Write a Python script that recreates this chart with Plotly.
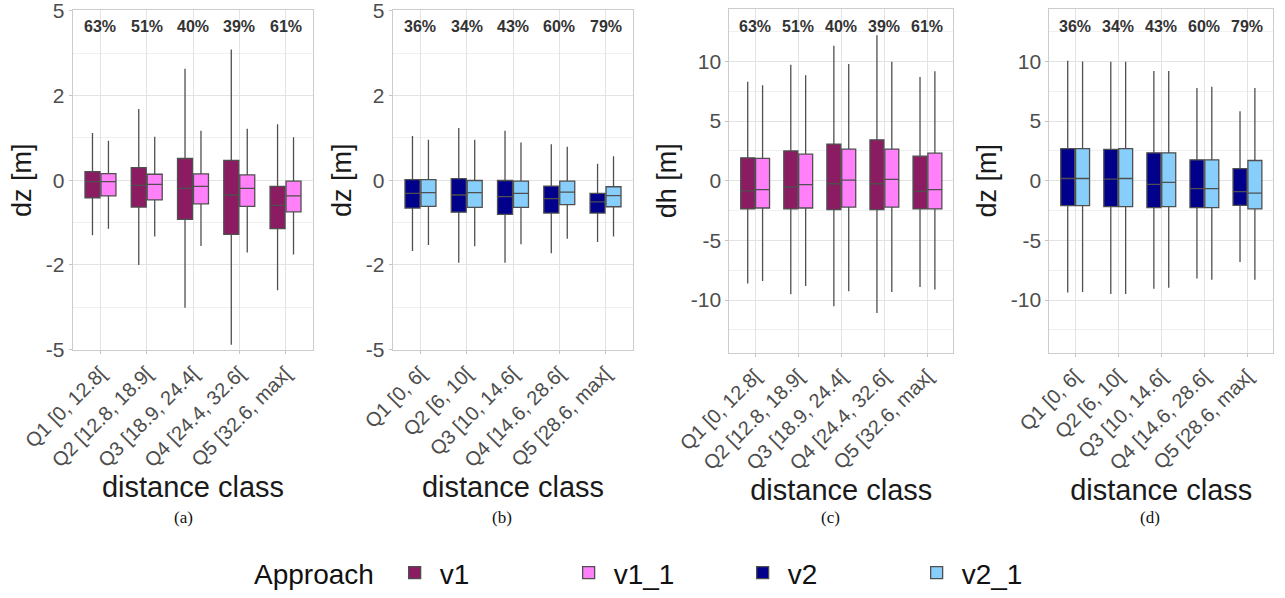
import numpy as np
import plotly.graph_objects as go

# ---------------- data ----------------
cats_ac = ["Q1 [0, 12.8[", "Q2 [12.8, 18.9[", "Q3 [18.9, 24.4[", "Q4 [24.4, 32.6[", "Q5 [32.6, max["]
cats_bd = ["Q1 [0, 6[", "Q2 [6, 10[", "Q3 [10, 14.6[", "Q4 [14.6, 28.6[", "Q5 [28.6, max["]
pct_ac = ["63%", "51%", "40%", "39%", "61%"]
pct_bd = ["36%", "34%", "43%", "60%", "79%"]

# panel (a): dz, v1 / v1_1
a_v1_low = [-1.25, -2.01, -3.32, -4.78, -2.75]
a_v1_q1 = [-0.39, -0.595, -0.872, -1.227, -1.09]
a_v1_med = [-0.03, -0.115, -0.18, -0.325, -0.558]
a_v1_q3 = [0.187, 0.274, 0.478, 0.434, -0.137]
a_v1_up = [1.06, 1.65, 2.79, 3.43, 1.27]
a_v11_low = [-1.09, -1.275, -1.51, -1.68, -1.73]
a_v11_q1 = [-0.346, -0.434, -0.522, -0.58, -0.70]
a_v11_med = [-0.03, -0.094, -0.137, -0.18, -0.346]
a_v11_q3 = [0.144, 0.13, 0.137, 0.115, -0.022]
a_v11_up = [0.88, 0.97, 1.11, 1.16, 0.96]

# panel (b): dz, v2 / v2_1
b_v2_low = [-1.64, -1.95, -1.95, -1.70, -1.41]
b_v2_q1 = [-0.617, -0.71, -0.76, -0.729, -0.729]
b_v2_med = [-0.289, -0.325, -0.361, -0.405, -0.478]
b_v2_q3 = [0.014, 0.036, -0.007, -0.13, -0.289]
b_v2_up = [0.99, 1.18, 1.11, 0.80, 0.36]
b_v21_low = [-1.49, -1.52, -1.47, -1.33, -1.275]
b_v21_q1 = [-0.58, -0.60, -0.60, -0.537, -0.587]
b_v21_med = [-0.274, -0.274, -0.289, -0.26, -0.339]
b_v21_q3 = [0.014, -0.007, -0.022, -0.022, -0.144]
b_v21_up = [0.90, 0.90, 0.84, 0.74, 0.53]

# panel (c): dh, v1 / v1_1
c_v1_low = [-8.6, -9.5, -10.52, -11.07, -8.9]
c_v1_q1 = [-2.36, -2.36, -2.42, -2.42, -2.36]
c_v1_med = [-0.85, -0.52, -0.25, -0.25, -0.88]
c_v1_q3 = [1.92, 2.5, 3.08, 3.43, 2.06]
c_v1_up = [8.3, 9.73, 11.32, 12.2, 8.7]
c_v11_low = [-8.4, -8.82, -9.26, -9.31, -9.12]
c_v11_q1 = [-2.28, -2.28, -2.2, -2.2, -2.36]
c_v11_med = [-0.74, -0.33, 0.05, 0.11, -0.74]
c_v11_q3 = [1.87, 2.23, 2.66, 2.66, 2.31]
c_v11_up = [8.0, 8.85, 9.78, 9.97, 9.18]

# panel (d): dz, v2 / v2_1
d_v2_low = [-9.37, -9.48, -9.04, -8.19, -6.81]
d_v2_q1 = [-2.09, -2.17, -2.25, -2.25, -2.06]
d_v2_med = [0.19, 0.14, -0.3, -0.66, -0.91]
d_v2_q3 = [2.69, 2.64, 2.34, 1.76, 1.02]
d_v2_up = [10.05, 9.97, 9.2, 7.77, 5.82]
d_v21_low = [-9.31, -9.48, -8.96, -8.3, -8.3]
d_v21_q1 = [-2.09, -2.17, -2.17, -2.25, -2.36]
d_v21_med = [0.19, 0.19, -0.14, -0.66, -1.04]
d_v21_q3 = [2.69, 2.69, 2.34, 1.76, 1.70]
d_v21_up = [10.0, 9.97, 9.2, 7.88, 7.77]

dz_ticks = [-5, -2, 0, 2, 5]
dh_ticks = [-10, -5, 0, 5, 10]

colors = {"v1": "#8B1C62", "v1_1": "#FF80F8", "v2": "#00008B", "v2_1": "#87CEFA"}

# ---------------- helpers ----------------
SIG = 2.7


def tz(v):
    """pseudo-log (asinh) scale used by the dz axes"""
    return np.arcsinh(np.asarray(v, dtype=float) / SIG)


W, H = 1285, 598
FONT = "Liberation Sans, Arial, sans-serif"
TICKC = "#4d4d4d"

fig = go.Figure()

panels = [
    ("", cats_ac, [("v1", a_v1_low, a_v1_q1, a_v1_med, a_v1_q3, a_v1_up),
                   ("v1_1", a_v11_low, a_v11_q1, a_v11_med, a_v11_q3, a_v11_up)], True, pct_ac, "dz [m]"),
    ("2", cats_bd, [("v2", b_v2_low, b_v2_q1, b_v2_med, b_v2_q3, b_v2_up),
                    ("v2_1", b_v21_low, b_v21_q1, b_v21_med, b_v21_q3, b_v21_up)], True, pct_bd, "dz [m]"),
    ("3", cats_ac, [("v1", c_v1_low, c_v1_q1, c_v1_med, c_v1_q3, c_v1_up),
                    ("v1_1", c_v11_low, c_v11_q1, c_v11_med, c_v11_q3, c_v11_up)], False, pct_ac, "dh [m]"),
    ("4", cats_bd, [("v2", d_v2_low, d_v2_q1, d_v2_med, d_v2_q3, d_v2_up),
                    ("v2_1", d_v21_low, d_v21_q1, d_v21_med, d_v21_q3, d_v21_up)], False, pct_bd, "dz [m]"),
]

xdoms = [(72.7, 313.3), (392.7, 633.3), (729.3, 953.3), (1049.3, 1273.3)]
ydoms = [(10.5, 352.3), (10.5, 352.3), (9.0, 355.0), (9.0, 355.0)]

shown = set()
annotations = []
for i, (sfx, cats, series, is_dz, pcts, ytitle) in enumerate(panels):
    xa, ya = "x" + sfx, "y" + sfx
    f = tz if is_dz else (lambda v: np.asarray(v, dtype=float))
    for k, (name, low, q1, med, q3, up) in enumerate(series):
        fig.add_trace(go.Box(
            x=cats, lowerfence=f(low), q1=f(q1), median=f(med), q3=f(q3), upperfence=f(up),
            name=name, legendgroup=name, showlegend=name not in shown,
            alignmentgroup="panel%d" % i, offsetgroup="g%d" % k,
            fillcolor=colors[name], line=dict(color="#4f4f4f", width=1.3),
            whiskerwidth=0, boxpoints=False, hoverinfo="skip",
            xaxis=xa, yaxis=ya,
        ))
        shown.add(name)

    x0, x1 = xdoms[i]
    y0, y1 = ydoms[i]
    xkey = "xaxis" + sfx
    ykey = "yaxis" + sfx
    fig.layout[xkey] = dict(
        domain=[x0 / W, x1 / W], anchor=ya, type="category",
        categoryorder="array", categoryarray=cats, range=[-0.6, 4.6],
        showgrid=True, gridcolor="#e3e3e3", gridwidth=1,
        showline=True, mirror=True, linecolor="#cccccc", linewidth=1,
        ticks="outside", ticklen=3, tickcolor="#c4c4c4",
        tickangle=-45, tickfont=dict(family=FONT, size=20, color=TICKC),
        title=dict(text="distance class", font=dict(family=FONT, size=29, color="#1a1a1a"), standoff=0),
        zeroline=False, automargin=False, fixedrange=True,
    )
    if is_dz:
        rng = float(tz(5)) * 1.002
        tv = list(tz(dz_ticks))
        t2, t5 = float(tz(2)), float(tz(5))
        minor_vals = [-(t2 + t5) / 2, -t2 / 2, t2 / 2, (t2 + t5) / 2]
        yax = dict(range=[-rng, rng], tickmode="array", tickvals=tv,
                   ticktext=[str(v) for v in dz_ticks],
                   minor=dict(tickmode="array", tickvals=minor_vals, showgrid=True,
                              gridcolor="#f0f0f0", gridwidth=1, ticks=""))
    else:
        yax = dict(range=[-14.4, 14.4], tickmode="array", tickvals=dh_ticks,
                   ticktext=[str(v) for v in dh_ticks],
                   minor=dict(tickmode="array", tickvals=[-12.5, -7.5, -2.5, 2.5, 7.5, 12.5],
                              showgrid=True, gridcolor="#f0f0f0", gridwidth=1, ticks=""))
    yax.update(
        domain=[1 - y1 / H, 1 - y0 / H], anchor=xa,
        showgrid=True, gridcolor="#e3e3e3", gridwidth=1,
        showline=True, mirror=True, linecolor="#cccccc", linewidth=1,
        ticks="outside", ticklen=3, tickcolor="#c4c4c4", ticklabeloverflow="allow",
        tickfont=dict(family=FONT, size=21, color=TICKC),
        title=dict(text=ytitle, font=dict(family=FONT, size=27, color="#1a1a1a"), standoff=6),
        zeroline=False, automargin=False, fixedrange=True,
    )
    fig.layout[ykey] = yax

    # percentage labels on top of each class
    for c, p in zip(cats, pcts):
        annotations.append(dict(
            x=c, y=1 - (27 - y0) / (y1 - y0), xref=xa, yref=ya + " domain",
            text="<b>" + p + "</b>", showarrow=False, xanchor="center", yanchor="middle",
            font=dict(family=FONT, size=16, color="#333333"),
        ))

# subplot letters
for lab, xc in zip(["(a)", "(b)", "(c)", "(d)"], [183, 502, 830, 1150]):
    annotations.append(dict(
        x=xc / W, y=1 - 521 / H, xref="paper", yref="paper", text=lab, showarrow=False,
        xanchor="center", yanchor="middle",
        font=dict(family="Liberation Serif, Times New Roman, serif", size=17, color="#111111"),
    ))

fig.update_layout(
    width=W, height=H,
    margin=dict(l=0, r=0, t=0, b=0),
    paper_bgcolor="white", plot_bgcolor="white",
    boxmode="group", boxgap=0.31, boxgroupgap=0.06,
    annotations=annotations,
    font=dict(family=FONT),
    legend=dict(
        orientation="h", x=252 / W, xanchor="left", y=1 - 577 / H, yanchor="middle",
        title=dict(text="Approach\u00a0", font=dict(family=FONT, size=28, color="#111111"), side="left"),
        font=dict(family=FONT, size=28, color="#111111"),
        itemwidth=40, entrywidth=119, entrywidthmode="pixels", bgcolor="rgba(0,0,0,0)",
        traceorder="normal",
    ),
)

fig.write_html("out.html", config={"displayModeBar": False},
               post_script="document.body.style.margin='0px';")
